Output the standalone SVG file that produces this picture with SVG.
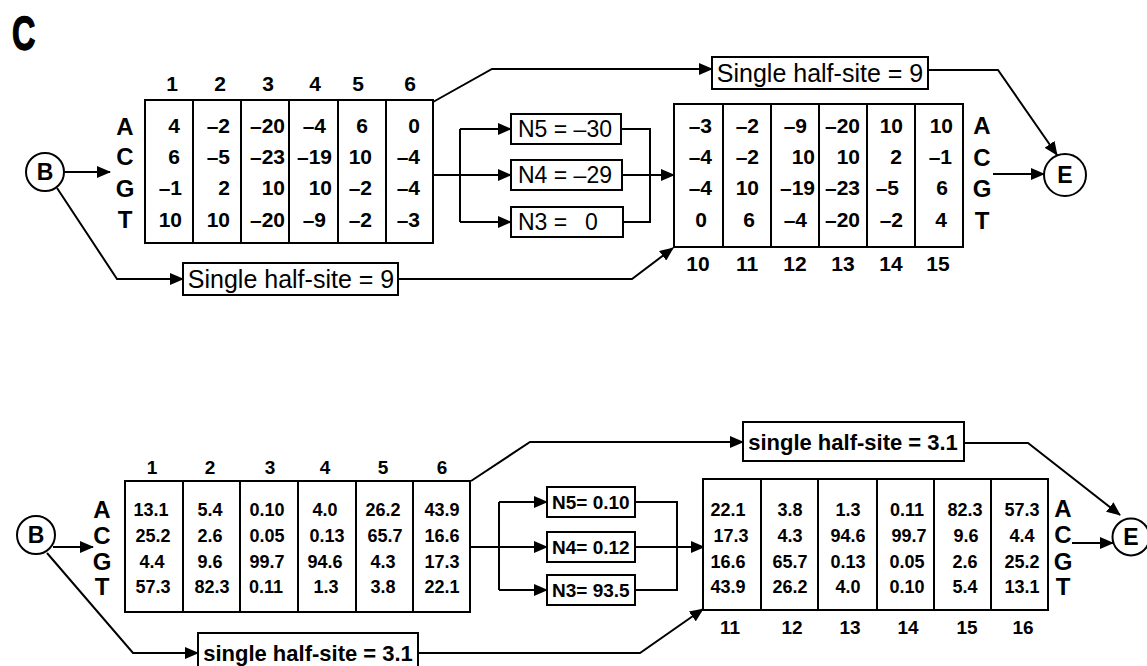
<svg xmlns="http://www.w3.org/2000/svg" width="1147" height="666" viewBox="0 0 1147 666">
<defs>
<marker id="ah" markerUnits="userSpaceOnUse" markerWidth="14" markerHeight="12" refX="13" refY="6" orient="auto">
<path d="M0,0 L14,6 L0,12 z" fill="#000"/>
</marker>
<style>
text{font-family:"Liberation Sans",Arial,sans-serif;fill:#000}
.box{fill:#fff;stroke:#000;stroke-width:2}
.div{stroke:#000;stroke-width:2}
.ln{fill:none;stroke:#000;stroke-width:2}
.ar{fill:none;stroke:#000;stroke-width:2;marker-end:url(#ah)}
.lbl{font-size:24px;font-weight:bold;text-anchor:middle}
.hdr{font-size:19px;font-weight:bold;text-anchor:middle}
.hdr1{font-size:21px;font-weight:bold;text-anchor:middle}
.hdr2{font-size:21px;font-weight:bold;text-anchor:middle}
.nt{font-size:21px;font-weight:bold;text-anchor:end}
.nb{font-size:18px;font-weight:bold;text-anchor:middle}
.lbl2{font-size:24px;font-weight:bold;text-anchor:middle}
.hs{font-size:25px;text-anchor:middle}
.hs2{font-size:22px;font-weight:bold;text-anchor:middle}
.nn{font-size:23px}
.nn2{font-size:19px;font-weight:bold}
.cl{font-size:23px;font-weight:bold;text-anchor:middle}
</style>
</defs>

<text x="0" y="0" font-size="49" font-weight="bold" stroke="#000" stroke-width="1.5" transform="translate(12,50) scale(0.66,1)">C</text>

<!-- ===== TOP PANEL ===== -->
<g id="connectors-top">
<line class="ar" x1="64" y1="172" x2="110" y2="172"/>
<polyline class="ar" points="57,188 117,279 183,279"/>
<polyline class="ar" points="398,279 632,279 673,248"/>
<polyline class="ar" points="433,102 492,69 712,69"/>
<polyline class="ar" points="928,70 998,70 1057,155"/>
<line class="ar" x1="993" y1="174" x2="1044" y2="174"/>
<line class="ar" x1="433" y1="175" x2="511" y2="175"/>
<line class="ln" x1="460" y1="129" x2="460" y2="222"/>
<line class="ar" x1="460" y1="129" x2="511" y2="129"/>
<line class="ar" x1="460" y1="222" x2="511" y2="222"/>
<polyline class="ln" points="620,129 650,129 650,222 622,222"/>
<line class="ar" x1="621" y1="175" x2="674" y2="175"/>
</g>

<g id="B-top">
<circle cx="45" cy="172" r="19" class="box"/>
<text class="cl" x="45" y="180">B</text>
</g>

<g id="E-top">
<circle cx="1065" cy="175" r="21" class="box"/>
<text class="cl" x="1065" y="183">E</text>
</g>

<g id="matrix-top-left">
<rect class="box" x="145" y="100" width="288" height="143"/>
<line class="div" x1="193" y1="100" x2="193" y2="243"/>
<line class="div" x1="241" y1="100" x2="241" y2="243"/>
<line class="div" x1="289" y1="100" x2="289" y2="243"/>
<line class="div" x1="338" y1="100" x2="338" y2="243"/>
<line class="div" x1="386" y1="100" x2="386" y2="243"/>
<text class="hdr1" x="172" y="91">1</text>
<text class="hdr1" x="220" y="91">2</text>
<text class="hdr1" x="268" y="91">3</text>
<text class="hdr1" x="315" y="91">4</text>
<text class="hdr1" x="358" y="91">5</text>
<text class="hdr1" x="410" y="91">6</text>
<text class="lbl" x="125" y="135">A</text>
<text class="lbl" x="125" y="165">C</text>
<text class="lbl" x="125" y="197">G</text>
<text class="lbl" x="125" y="228">T</text>
<text class="nt" x="180" y="133">4</text>
<text class="nt" x="180" y="164">6</text>
<text class="nt" x="182" y="195">–1</text>
<text class="nt" x="182" y="227">10</text>
<text class="nt" x="230" y="133">–2</text>
<text class="nt" x="230" y="164">–5</text>
<text class="nt" x="230" y="195">2</text>
<text class="nt" x="230" y="227">10</text>
<text class="nt" x="285" y="133">–20</text>
<text class="nt" x="285" y="164">–23</text>
<text class="nt" x="285" y="195">10</text>
<text class="nt" x="285" y="227">–20</text>
<text class="nt" x="326" y="133">–4</text>
<text class="nt" x="332" y="164">–19</text>
<text class="nt" x="332" y="195">10</text>
<text class="nt" x="326" y="227">–9</text>
<text class="nt" x="368" y="133">6</text>
<text class="nt" x="372" y="164">10</text>
<text class="nt" x="372" y="195">–2</text>
<text class="nt" x="372" y="227">–2</text>
<text class="nt" x="420" y="133">0</text>
<text class="nt" x="420" y="164">–4</text>
<text class="nt" x="420" y="195">–4</text>
<text class="nt" x="420" y="227">–3</text>
</g>

<g id="half-top-bottom">
<rect class="box" x="183" y="263" width="215" height="32"/>
<text class="hs" x="291" y="288">Single half-site = 9</text>
</g>

<g id="half-top-top">
<rect class="box" x="712" y="57" width="216" height="32"/>
<text class="hs" x="820" y="82">Single half-site = 9</text>
</g>

<g id="N5-top">
<rect class="box" x="511" y="114" width="110" height="30"/>
<text class="nn" x="518" y="137">N5 = –30</text>
</g>
<g id="N4-top">
<rect class="box" x="511" y="160" width="111" height="30"/>
<text class="nn" x="518" y="183">N4 = –29</text>
</g>
<g id="N3-top">
<rect class="box" x="511" y="207" width="112" height="30"/>
<text class="nn" x="518" y="230">N3 = <tspan x="585">0</tspan></text>
</g>

<g id="matrix-top-right">
<rect class="box" x="674" y="104" width="289" height="143"/>
<line class="div" x1="723" y1="104" x2="723" y2="247"/>
<line class="div" x1="771" y1="104" x2="771" y2="247"/>
<line class="div" x1="819" y1="104" x2="819" y2="247"/>
<line class="div" x1="867" y1="104" x2="867" y2="247"/>
<line class="div" x1="915" y1="104" x2="915" y2="247"/>
<text class="lbl" x="982" y="134">A</text>
<text class="lbl" x="982" y="166">C</text>
<text class="lbl" x="982" y="197">G</text>
<text class="lbl" x="982" y="229">T</text>
<text class="hdr2" x="698" y="271">10</text>
<text class="hdr2" x="747" y="271">11</text>
<text class="hdr2" x="795" y="271">12</text>
<text class="hdr2" x="843" y="271">13</text>
<text class="hdr2" x="891" y="271">14</text>
<text class="hdr2" x="938" y="271">15</text>
<text class="nt" x="712" y="133">–3</text>
<text class="nt" x="712" y="164">–4</text>
<text class="nt" x="712" y="195">–4</text>
<text class="nt" x="707" y="227">0</text>
<text class="nt" x="759" y="133">–2</text>
<text class="nt" x="759" y="164">–2</text>
<text class="nt" x="759" y="195">10</text>
<text class="nt" x="755" y="227">6</text>
<text class="nt" x="807" y="133">–9</text>
<text class="nt" x="815" y="164">10</text>
<text class="nt" x="815" y="195">–19</text>
<text class="nt" x="807" y="227">–4</text>
<text class="nt" x="860" y="133">–20</text>
<text class="nt" x="860" y="164">10</text>
<text class="nt" x="860" y="195">–23</text>
<text class="nt" x="860" y="227">–20</text>
<text class="nt" x="903" y="133">10</text>
<text class="nt" x="902" y="164">2</text>
<text class="nt" x="899" y="195">–5</text>
<text class="nt" x="903" y="227">–2</text>
<text class="nt" x="953" y="133">10</text>
<text class="nt" x="952" y="164">–1</text>
<text class="nt" x="948" y="195">6</text>
<text class="nt" x="947" y="227">4</text>
</g>

<!-- ===== BOTTOM PANEL ===== -->
<g id="connectors-bottom">
<line class="ar" x1="53" y1="547" x2="93" y2="547"/>
<polyline class="ar" points="47,553 133,653 198,653"/>
<polyline class="ar" points="418,653 640,653 703,609"/>
<polyline class="ar" points="471,481 530,442 743,442"/>
<polyline class="ar" points="964,443 1028,443 1120,515"/>
<line class="ar" x1="1072" y1="543" x2="1113" y2="543"/>
<line class="ar" x1="471" y1="547" x2="547" y2="547"/>
<line class="ln" x1="499" y1="502" x2="499" y2="590"/>
<line class="ar" x1="499" y1="502" x2="547" y2="502"/>
<line class="ar" x1="499" y1="590" x2="547" y2="590"/>
<polyline class="ln" points="635,502 677,502 677,590 635,590"/>
<line class="ar" x1="635" y1="547" x2="704" y2="547"/>
</g>

<g id="B-bottom">
<circle cx="36" cy="535" r="19" class="box"/>
<text class="cl" x="36" y="543">B</text>
</g>

<g id="E-bottom">
<circle cx="1131" cy="537" r="18.5" class="box"/>
<text class="cl" x="1131" y="545">E</text>
</g>

<g id="matrix-bottom-left">
<rect class="box" x="125" y="481" width="345" height="131"/>
<line class="div" x1="183" y1="481" x2="183" y2="612"/>
<line class="div" x1="240" y1="481" x2="240" y2="612"/>
<line class="div" x1="298" y1="481" x2="298" y2="612"/>
<line class="div" x1="356" y1="481" x2="356" y2="612"/>
<line class="div" x1="413" y1="481" x2="413" y2="612"/>
<text class="hdr" x="152" y="474">1</text>
<text class="hdr" x="210" y="474">2</text>
<text class="hdr" x="270" y="474">3</text>
<text class="hdr" x="325" y="474">4</text>
<text class="hdr" x="383" y="474">5</text>
<text class="hdr" x="442" y="474">6</text>
<text class="lbl2" x="102" y="518">A</text>
<text class="lbl2" x="102" y="544">C</text>
<text class="lbl2" x="102" y="570">G</text>
<text class="lbl2" x="102" y="595">T</text>
<text class="nb" x="151" y="516">13.1</text>
<text class="nb" x="153" y="542">25.2</text>
<text class="nb" x="152" y="568">4.4</text>
<text class="nb" x="153" y="593">57.3</text>
<text class="nb" x="210" y="516">5.4</text>
<text class="nb" x="210" y="542">2.6</text>
<text class="nb" x="210" y="568">9.6</text>
<text class="nb" x="212" y="593">82.3</text>
<text class="nb" x="267" y="516">0.10</text>
<text class="nb" x="267" y="542">0.05</text>
<text class="nb" x="267" y="568">99.7</text>
<text class="nb" x="266" y="593">0.11</text>
<text class="nb" x="325" y="516">4.0</text>
<text class="nb" x="327" y="542">0.13</text>
<text class="nb" x="325" y="568">94.6</text>
<text class="nb" x="326" y="593">1.3</text>
<text class="nb" x="383" y="516">26.2</text>
<text class="nb" x="385" y="542">65.7</text>
<text class="nb" x="383" y="568">4.3</text>
<text class="nb" x="383" y="593">3.8</text>
<text class="nb" x="442" y="516">43.9</text>
<text class="nb" x="442" y="542">16.6</text>
<text class="nb" x="442" y="568">17.3</text>
<text class="nb" x="442" y="593">22.1</text>
</g>

<g id="half-bottom-bottom">
<rect class="box" x="198" y="633" width="220" height="40"/>
<text class="hs2" x="308" y="661">single half-site = 3.1</text>
</g>

<g id="half-bottom-top">
<rect class="box" x="743" y="422" width="221" height="39"/>
<text class="hs2" x="853" y="450">single half-site = 3.1</text>
</g>

<g id="N5-bottom">
<rect class="box" x="547" y="487" width="88" height="30"/>
<text class="nn2" x="552" y="509">N5= 0.10</text>
</g>
<g id="N4-bottom">
<rect class="box" x="547" y="532" width="88" height="30"/>
<text class="nn2" x="552" y="554">N4= 0.12</text>
</g>
<g id="N3-bottom">
<rect class="box" x="547" y="575" width="88" height="30"/>
<text class="nn2" x="552" y="597">N3= 93.5</text>
</g>

<g id="matrix-bottom-right">
<rect class="box" x="703" y="479" width="345" height="131"/>
<line class="div" x1="761" y1="479" x2="761" y2="610"/>
<line class="div" x1="818" y1="479" x2="818" y2="610"/>
<line class="div" x1="877" y1="479" x2="877" y2="610"/>
<line class="div" x1="934" y1="479" x2="934" y2="610"/>
<line class="div" x1="991" y1="479" x2="991" y2="610"/>
<text class="lbl2" x="1063" y="517">A</text>
<text class="lbl2" x="1063" y="543">C</text>
<text class="lbl2" x="1063" y="570">G</text>
<text class="lbl2" x="1063" y="595">T</text>
<text class="hdr" x="730" y="634">11</text>
<text class="hdr" x="792" y="634">12</text>
<text class="hdr" x="850" y="634">13</text>
<text class="hdr" x="908" y="634">14</text>
<text class="hdr" x="967" y="634">15</text>
<text class="hdr" x="1023" y="634">16</text>
<text class="nb" x="728" y="516">22.1</text>
<text class="nb" x="731" y="542">17.3</text>
<text class="nb" x="728" y="568">16.6</text>
<text class="nb" x="728" y="593">43.9</text>
<text class="nb" x="790" y="516">3.8</text>
<text class="nb" x="790" y="542">4.3</text>
<text class="nb" x="790" y="568">65.7</text>
<text class="nb" x="790" y="593">26.2</text>
<text class="nb" x="848" y="516">1.3</text>
<text class="nb" x="848" y="542">94.6</text>
<text class="nb" x="848" y="568">0.13</text>
<text class="nb" x="848" y="593">4.0</text>
<text class="nb" x="907" y="516">0.11</text>
<text class="nb" x="909" y="542">99.7</text>
<text class="nb" x="907" y="568">0.05</text>
<text class="nb" x="907" y="593">0.10</text>
<text class="nb" x="965" y="516">82.3</text>
<text class="nb" x="966" y="542">9.6</text>
<text class="nb" x="965" y="568">2.6</text>
<text class="nb" x="965" y="593">5.4</text>
<text class="nb" x="1022" y="516">57.3</text>
<text class="nb" x="1022" y="542">4.4</text>
<text class="nb" x="1022" y="568">25.2</text>
<text class="nb" x="1022" y="593">13.1</text>
</g>
</svg>
